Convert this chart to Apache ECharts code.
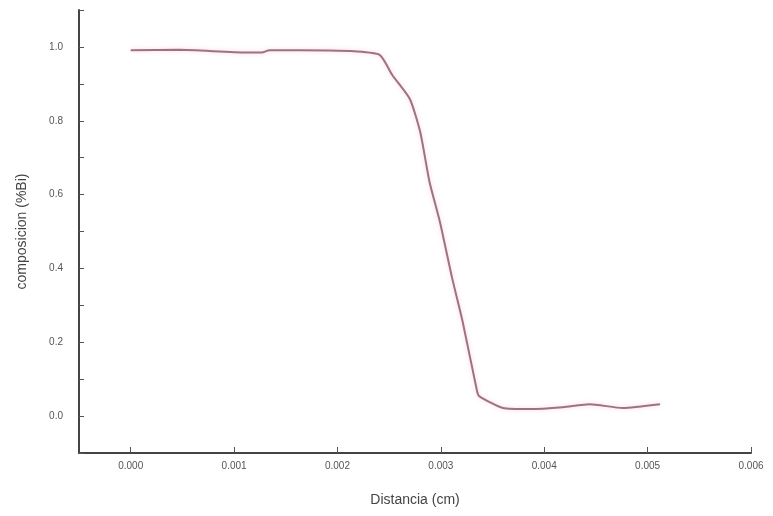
<!DOCTYPE html>
<html>
<head>
<meta charset="utf-8">
<script src="https://cdn.jsdelivr.net/npm/echarts@6/dist/echarts.min.js"></script>
<style>html,body{margin:0;padding:0;background:#fff}#c{width:773px;height:516px}</style>
</head>
<body>
<div id="c"></div>
<script>
var distance = [0.0, 0.00047, 0.00112, 0.00127, 0.00134, 0.00192, 0.00216, 0.00241, 0.00253, 0.0027, 0.0028, 0.00289, 0.00299, 0.00311, 0.00321, 0.00335, 0.00337, 0.0036, 0.00386, 0.00418, 0.00444, 0.00476, 0.00512];
var composition = [0.991, 0.992, 0.985, 0.985, 0.991, 0.990, 0.988, 0.978, 0.924, 0.859, 0.770, 0.635, 0.527, 0.373, 0.257, 0.068, 0.054, 0.022, 0.019, 0.024, 0.032, 0.022, 0.032];
var xTicks = [0, 0.001, 0.002, 0.003, 0.004, 0.005, 0.006];
var yTicks = [0, 0.2, 0.4, 0.6, 0.8, 1.0];
var yMinorTicks = [-0.1, 0, 0.1, 0.2, 0.3, 0.4, 0.5, 0.6, 0.7, 0.8, 0.9, 1.0, 1.1];

var chart = echarts.init(document.getElementById('c'));
var pts = distance.map(function (d, i) { return [d, composition[i]]; });
chart.setOption({
  animation: false,
  grid: { left: 79, right: 22, top: 10, bottom: 63 },
  xAxis: {
    type: 'value', min: -0.0005, max: 0.006,
    name: 'Distancia (cm)', nameLocation: 'middle', nameGap: 40,
    nameTextStyle: { fontSize: 14, color: '#444', fontFamily: 'Liberation Sans' },
    axisLine: { show: true, onZero: false, lineStyle: { color: '#444', width: 2 } },
    axisTick: { show: true, inside: true, length: 6, customValues: xTicks, lineStyle: { color: '#555' } },
    axisLabel: { customValues: xTicks, fontSize: 10, color: '#555', margin: 8, fontFamily: 'Liberation Sans',
      formatter: function (v) { return v.toFixed(3); } },
    splitLine: { show: false }
  },
  yAxis: {
    type: 'value', min: -0.1, max: 1.1,
    name: 'composicion (%Bi)', nameLocation: 'middle', nameGap: 50,
    nameTextStyle: { fontSize: 14, color: '#444', fontFamily: 'Liberation Sans' },
    axisLine: { show: true, onZero: false, lineStyle: { color: '#444', width: 2 } },
    axisTick: { show: true, inside: true, length: 5, customValues: yMinorTicks, lineStyle: { color: '#555' } },
    axisLabel: { customValues: yTicks, fontSize: 10, color: '#555', margin: 16, fontFamily: 'Liberation Sans',
      formatter: function (v) { return v.toFixed(1); } },
    splitLine: { show: false }
  },
  series: [{
    type: 'line', data: pts, showSymbol: false, smooth: 0.2,
    lineStyle: { color: '#9c7382', width: 2, shadowColor: 'rgba(255,160,185,0.5)', shadowBlur: 4 }
  }]
});
</script>
</body>
</html>
